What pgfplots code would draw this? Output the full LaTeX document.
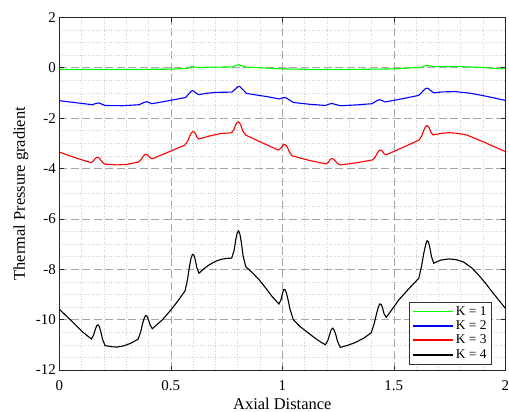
\documentclass[border=0pt]{standalone}
\usepackage{fontspec}
\setmainfont{Liberation Serif}
\usepackage{pgfplots}
\pgfplotsset{compat=1.18}
\begin{document}
\begin{tikzpicture}
\begin{axis}[name=ax,
  width=446bp, height=352.7bp, scale only axis,
  xmin=0, xmax=2, ymin=-12, ymax=2,
  xtick={0,0.5,1,1.5,2}, ytick={-12,-10,-8,-6,-4,-2,0,2},
  xticklabels={0,0.5,1,1.5,2},
  minor x tick num=4, minor y tick num=3,
  grid=both,
  major grid style={dash pattern=on 8bp off 3.5bp, color=black!35, line width=0.6bp},
  minor grid style={dash pattern=on 0.8bp off 1.8bp, color=black!18, line width=0.5bp},
  tick align=inside, major tick length=4.5bp, minor tick length=0pt,
  axis line style={line width=0.8bp, black!85},
  tick style={black!85, line width=0.6bp},
  /pgf/number format/assume math mode=true,
  ticklabel style={font=\fontsize{15}{18}\selectfont},
  xticklabel style={anchor=base, yshift=-20.7bp},
  xlabel={Axial Distance}, ylabel={Thermal Pressure gradient},
  label style={font=\fontsize{16.5}{19}\selectfont},
  xlabel style={at={(axis description cs:0.5,0)}, anchor=base, yshift=-39.5bp},
  ylabel style={at={(axis description cs:-0.0859,0.5)}, anchor=center},
  legend style={at={(axis description cs:1,0)}, anchor=south east, xshift=-13.5bp, yshift=6bp,
    font=\fontsize{13.5}{16}\selectfont, draw=black!80, fill=white},
  legend cell align=left,
]
\addplot[color=green, line width=1.1bp,
  legend image code/.code={\pgfsetlinewidth{1.8bp}\pgfsetdash{}{0pt}\pgfsetstrokecolor{green}\pgfpathmoveto{\pgfpoint{0bp}{0bp}}\pgfpathlineto{\pgfpoint{40bp}{0bp}}\pgfusepath{stroke}}] coordinates {
(0,-0.07) (0.15,-0.07) (0.3,-0.07) (0.49,-0.06) (0.574,-0.03) (0.59,0.03) (0.597,0.05) (0.604,0.04) (0.615,0.01) (0.687,0.02) (0.776,0.03) (0.794,0.09) (0.806,0.12) (0.818,0.08) (0.837,0.02) (0.926,-0.01) (1.0,-0.05) (1.15,-0.07) (1.3,-0.07) (1.49,-0.05) (1.619,0.01) (1.64,0.08) (1.649,0.10) (1.658,0.08) (1.679,0.04) (1.776,0.05) (1.895,0.01) (2.0,-0.05)
};
\addlegendentry{K = 1}
\addplot[color=blue, line width=1.1bp,
  legend image code/.code={\pgfsetlinewidth{1.8bp}\pgfsetdash{}{0pt}\pgfsetstrokecolor{blue}\pgfpathmoveto{\pgfpoint{0bp}{0bp}}\pgfpathlineto{\pgfpoint{40bp}{0bp}}\pgfusepath{stroke}}] coordinates {
(0,-1.31) (0.148,-1.47) (0.164,-1.42) (0.175,-1.40) (0.186,-1.43) (0.205,-1.50) (0.283,-1.51) (0.358,-1.47) (0.380,-1.38) (0.391,-1.35) (0.402,-1.38) (0.415,-1.43) (0.492,-1.31) (0.567,-1.18) (0.586,-0.99) (0.592,-0.93) (0.597,-0.91) (0.603,-0.93) (0.609,-0.98) (0.624,-1.07) (0.66,-1.02) (0.701,-0.98) (0.774,-0.97) (0.794,-0.81) (0.800,-0.76) (0.806,-0.74) (0.812,-0.77) (0.818,-0.83) (0.839,-1.02) (0.88,-1.08) (0.926,-1.14) (0.986,-1.24) (1.001,-1.20) (1.012,-1.18) (1.023,-1.23) (1.049,-1.38) (1.12,-1.45) (1.193,-1.50) (1.212,-1.44) (1.223,-1.42) (1.234,-1.45) (1.26,-1.51) (1.33,-1.48) (1.402,-1.43) (1.424,-1.31) (1.435,-1.27) (1.446,-1.30) (1.462,-1.36) (1.54,-1.23) (1.612,-1.10) (1.637,-0.87) (1.643,-0.83) (1.649,-0.81) (1.655,-0.83) (1.661,-0.88) (1.679,-1.00) (1.72,-0.96) (1.776,-0.95) (1.84,-1.01) (1.895,-1.10) (1.95,-1.20) (2.0,-1.30)
};
\addlegendentry{K = 2}
\addplot[color=red, line width=1.1bp,
  legend image code/.code={\pgfsetlinewidth{1.8bp}\pgfsetdash{}{0pt}\pgfsetstrokecolor{red}\pgfpathmoveto{\pgfpoint{0bp}{0bp}}\pgfpathlineto{\pgfpoint{40bp}{0bp}}\pgfusepath{stroke}}] coordinates {
(0,-3.35) (0.07,-3.57) (0.142,-3.77) (0.152,-3.71) (0.160,-3.62) (0.166,-3.57) (0.172,-3.56) (0.178,-3.58) (0.184,-3.64) (0.192,-3.75) (0.205,-3.83) (0.257,-3.86) (0.30,-3.84) (0.354,-3.75) (0.366,-3.65) (0.375,-3.54) (0.381,-3.47) (0.387,-3.44) (0.393,-3.45) (0.399,-3.49) (0.406,-3.57) (0.416,-3.62) (0.5,-3.31) (0.564,-3.07) (0.576,-2.90) (0.585,-2.71) (0.592,-2.60) (0.598,-2.54) (0.604,-2.55) (0.610,-2.61) (0.617,-2.75) (0.626,-2.83) (0.67,-2.72) (0.72,-2.62) (0.773,-2.58) (0.783,-2.45) (0.791,-2.27) (0.797,-2.18) (0.803,-2.15) (0.809,-2.20) (0.815,-2.31) (0.823,-2.52) (0.837,-2.68) (0.9,-2.94) (0.982,-3.27) (0.992,-3.21) (1.000,-3.11) (1.006,-3.06) (1.012,-3.05) (1.018,-3.10) (1.024,-3.19) (1.032,-3.35) (1.045,-3.50) (1.12,-3.68) (1.196,-3.82) (1.206,-3.76) (1.213,-3.67) (1.218,-3.62) (1.224,-3.61) (1.230,-3.63) (1.236,-3.69) (1.245,-3.78) (1.259,-3.86) (1.33,-3.78) (1.405,-3.66) (1.417,-3.54) (1.426,-3.39) (1.432,-3.31) (1.438,-3.27) (1.444,-3.28) (1.449,-3.32) (1.456,-3.41) (1.465,-3.46) (1.54,-3.17) (1.614,-2.87) (1.626,-2.69) (1.635,-2.48) (1.641,-2.36) (1.647,-2.30) (1.653,-2.32) (1.659,-2.40) (1.666,-2.56) (1.676,-2.67) (1.71,-2.61) (1.745,-2.58) (1.78,-2.60) (1.827,-2.67) (1.9,-2.94) (2.0,-3.33)
};
\addlegendentry{K = 3}
\addplot[color=black, line width=1.1bp,
  legend image code/.code={\pgfsetlinewidth{1.8bp}\pgfsetdash{}{0pt}\pgfsetstrokecolor{black}\pgfpathmoveto{\pgfpoint{0bp}{0bp}}\pgfpathlineto{\pgfpoint{40bp}{0bp}}\pgfusepath{stroke}}] coordinates {
(0,-9.59) (0.058,-10.08) (0.103,-10.48) (0.144,-10.77) (0.154,-10.61) (0.162,-10.37) (0.168,-10.24) (0.174,-10.21) (0.180,-10.29) (0.186,-10.47) (0.194,-10.78) (0.205,-11.03) (0.238,-11.08) (0.26,-11.09) (0.29,-11.04) (0.32,-10.94) (0.353,-10.78) (0.365,-10.49) (0.374,-10.14) (0.381,-9.94) (0.387,-9.84) (0.393,-9.86) (0.399,-9.98) (0.407,-10.21) (0.417,-10.36) (0.462,-10.01) (0.5,-9.62) (0.53,-9.28) (0.564,-8.86) (0.575,-8.41) (0.584,-7.88) (0.591,-7.56) (0.597,-7.41) (0.603,-7.43) (0.609,-7.60) (0.617,-7.94) (0.626,-8.16) (0.65,-7.97) (0.671,-7.83) (0.7,-7.69) (0.724,-7.61) (0.75,-7.57) (0.773,-7.56) (0.784,-7.25) (0.792,-6.79) (0.798,-6.55) (0.804,-6.48) (0.810,-6.61) (0.816,-6.92) (0.824,-7.46) (0.836,-7.90) (0.866,-8.14) (0.896,-8.42) (0.925,-8.74) (0.955,-9.09) (0.985,-9.38) (0.994,-9.21) (1.001,-8.95) (1.006,-8.81) (1.012,-8.80) (1.018,-8.93) (1.025,-9.18) (1.035,-9.61) (1.05,-10.01) (1.08,-10.28) (1.118,-10.54) (1.155,-10.79) (1.193,-11.0) (1.205,-10.81) (1.214,-10.54) (1.220,-10.39) (1.226,-10.34) (1.232,-10.41) (1.239,-10.57) (1.248,-10.87) (1.26,-11.10) (1.29,-11.03) (1.327,-10.91) (1.365,-10.74) (1.399,-10.52) (1.412,-10.16) (1.423,-9.75) (1.431,-9.50) (1.437,-9.38) (1.443,-9.39) (1.449,-9.51) (1.456,-9.76) (1.466,-9.91) (1.495,-9.56) (1.522,-9.22) (1.567,-8.78) (1.612,-8.36) (1.624,-7.90) (1.635,-7.34) (1.643,-7.02) (1.649,-6.87) (1.655,-6.91) (1.661,-7.11) (1.669,-7.50) (1.679,-7.76) (1.71,-7.64) (1.746,-7.59) (1.78,-7.62) (1.814,-7.72) (1.85,-7.95) (1.88,-8.23) (1.91,-8.54) (1.94,-8.89) (1.97,-9.22) (2.0,-9.55)
};
\addlegendentry{K = 4}
\end{axis}
\pgfresetboundingbox
\path[use as bounding box] ([xshift=-59.3bp,yshift=-42bp]ax.south west) rectangle ([xshift=3.7bp,yshift=17.3bp]ax.north east);
\end{tikzpicture}
\end{document}
